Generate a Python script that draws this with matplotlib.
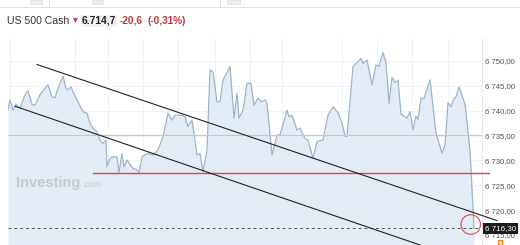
import matplotlib
matplotlib.use("Agg")
import matplotlib.pyplot as plt
import matplotlib.transforms as mtransforms
from matplotlib.patches import Ellipse, Rectangle
from matplotlib.lines import Line2D

plt.rcParams['font.family'] = ['Liberation Sans', 'DejaVu Sans']

# ---- data ----
times = [0, 2, 5, 8, 12, 17, 20, 24, 27, 32, 37, 40, 44, 47, 50, 55, 58, 60, 63, 65,
         70, 75, 79, 82, 85, 89, 92, 95, 98, 99, 102, 105, 109, 111, 114, 116, 119, 123, 125, 129,
         131, 134, 139, 145, 150, 155, 160, 164, 167, 174, 177, 180, 184, 187, 189, 192, 195, 199, 202, 205,
         209, 212, 215, 222, 226, 229, 231, 235, 239, 243, 246, 250, 254, 257, 259, 264, 269, 272, 279, 281,
         284, 289, 292, 297, 300, 305, 309, 315, 320, 325, 330, 334, 337, 339, 345, 350, 353, 355, 359, 364,
         368, 371, 375, 378, 381, 384, 387, 390, 393, 399, 402, 405, 408, 410, 413, 416, 422, 428, 434, 437,
         440, 443, 446, 448, 451, 457, 462, 466]
prices = [6740.1, 6742.2, 6740.1, 6741.3, 6740.5, 6743.2, 6744.0, 6741.3, 6741.1, 6743.2,
          6744.5, 6745.2, 6742.8, 6742.6, 6744.5, 6747.0, 6744.5, 6744.2, 6744.8, 6743.8,
          6741.8, 6739.8, 6739.5, 6737.5, 6736.5, 6735.8, 6734.1, 6733.4, 6734.1, 6728.7,
          6730.4, 6730.7, 6730.7, 6727.5, 6731.4, 6728.7, 6730.1, 6728.9, 6728.4, 6728.1,
          6727.5, 6730.7, 6731.4, 6731.1, 6732.1, 6734.8, 6739.5, 6738.1, 6739.1, 6739.1,
          6738.8, 6736.8, 6738.1, 6734.1, 6731.1, 6731.4, 6727.7, 6732.1, 6748.2, 6747.8,
          6741.8, 6741.8, 6746.2, 6748.9, 6738.5, 6743.5, 6738.5, 6740.1, 6745.5, 6745.5,
          6741.1, 6742.5, 6741.8, 6742.2, 6741.5, 6731.1, 6735.1, 6735.1, 6740.1, 6738.8,
          6739.1, 6736.1, 6736.5, 6734.4, 6734.1, 6730.4, 6733.8, 6734.1, 6739.1, 6740.8,
          6739.6, 6737.5, 6734.9, 6734.8, 6748.9, 6749.9, 6750.5, 6749.5, 6750.2, 6745.2,
          6749.2, 6748.9, 6751.7, 6749.7, 6741.5, 6746.7, 6745.7, 6746.1, 6739.3, 6738.5,
          6739.8, 6736.1, 6738.9, 6738.2, 6742.5, 6742.5, 6746.2, 6735.5, 6731.5, 6733.1,
          6741.6, 6740.8, 6742.5, 6742.8, 6744.8, 6741.3, 6732.1, 6716.3]

ytick_values = [6715, 6720, 6725, 6730, 6735, 6740, 6745, 6750]
ytick_labels = ["6 715,00", "6 720,00", "6 725,00", "6 730,00",
                "6 735,00", "6 740,00", "6 745,00", "6 750,00"]
vgrid_times = [2, 67, 100, 135, 170, 207, 242, 274, 334, 369, 404, 440]

upper_channel_t = [29, 489]
upper_channel_v = [6749.3, 6717.9]
lower_channel_t = [7, 432]
lower_channel_v = [6740.9, 6711.6]
support_level = 6727.4
support_t = [85, 481]
resistance_level = 6735.1
last_price = 6716.3
last_label = "6 716,30"
circle_center = (462.7, 6717.1)

title_name = "US 500 Cash"
title_price = "6.714,7"
title_change = "-20,6"
title_pct = "(-0,31%)"

# ---- figure ----
W, H = 520, 245
fig = plt.figure(figsize=(W / 100, H / 100), dpi=100)
fig.patch.set_facecolor('white')

ax_left, ax_right, ax_top = 8, 482, 38
ax = fig.add_axes([ax_left / W, 0, (ax_right - ax_left) / W, (H - ax_top) / H])
ymin, ymax = 6712.98, 6754.63
ax.set_xlim(0, ax_right - ax_left)
ax.set_ylim(ymin, ymax)

# grid
for v in ytick_values:
    ax.axhline(v, color='#eff1f3', lw=0.6, zorder=0)
for t in vgrid_times:
    ax.axvline(t, color='#edf0f3', lw=0.6, zorder=0)

# series
ax.fill_between(times, prices, ymin - 5, color='#e3ecf5', lw=0, zorder=1)
ax.plot(times, prices, color='#9ab5cc', lw=0.9, zorder=3)

# watermark
ax.text(0.016, 0.30, "Investing", transform=ax.transAxes, fontsize=10.5,
        fontweight='bold', color='#c3c9cf', va='center', ha='left', zorder=2)
ax.text(0.157, 0.293, ".com", transform=ax.transAxes, fontsize=6.3,
        color='#c3c9cf', va='center', ha='left', zorder=2)

# horizontal levels
ax.plot([0, ax_right - ax_left], [resistance_level] * 2, color='#f3b4b6', lw=0.8, zorder=4)
ax.plot(support_t, [support_level] * 2, color='#e0444b', lw=1.0, zorder=4, clip_on=False)
ax.plot([0, 472], [last_price] * 2, color='#555555', lw=0.7, ls=(0, (3, 3)), zorder=4)

# channel lines
ax.plot(upper_channel_t, upper_channel_v, color='#222222', lw=0.8, zorder=5, clip_on=False)
ax.plot(lower_channel_t, lower_channel_v, color='#222222', lw=0.8, zorder=5)

# red circle
px_per_unit = (H - ax_top) / (ymax - ymin)
ax.add_patch(Ellipse(circle_center, 19.5, 19.5 / px_per_unit, fill=False,
                     ec='#e0444b', lw=0.8, zorder=6, clip_on=False))

# axes styling
for s in ['top', 'left', 'bottom']:
    ax.spines[s].set_visible(False)
ax.spines['right'].set_color('#e6e8ea')
ax.spines['right'].set_linewidth(0.7)
ax.set_xticks([])
ax.yaxis.tick_right()
ax.set_yticks(ytick_values)
ax.set_yticklabels(ytick_labels)
ax.tick_params(axis='y', length=0, pad=2.5, labelsize=5.6, labelcolor='#555555')

# last price label
trans = mtransforms.blended_transform_factory(ax.transAxes, ax.transData)
ax.text(1.006, last_price, last_label, transform=trans, fontsize=5.8, color='white',
        va='center', ha='left', zorder=10,
        bbox=dict(boxstyle='square,pad=0.22', fc='#1c1c1c', ec='none'))

# orange icon at bottom right
fig.add_artist(Rectangle((497.5 / W, 0), 4.5 / W, 5 / H, transform=fig.transFigure,
                         fc='#fbe3cc', ec='#f08a24', lw=1.0))

# top toolbar strip
fig.add_artist(Line2D([0, 1], [1 - 7 / H] * 2, transform=fig.transFigure, color='#e3e3e3', lw=0.7))
for x0, x1 in [(30, 42), (92, 103), (227, 240)]:
    fig.add_artist(Rectangle((x0 / W, 1 - 4 / H), (x1 - x0) / W, 4 / H,
                             transform=fig.transFigure, fc='#eeeeee', ec='#dddddd', lw=0.5))
for xd in [49, 220]:
    fig.add_artist(Line2D([xd / W] * 2, [1 - 7 / H, 1], transform=fig.transFigure,
                          color='#dddddd', lw=0.6))

# header
yh = 1 - 20.7 / H
fig.text(7 / W, yh, title_name, fontsize=7.6, color='#333333', va='center', ha='left')
fig.text(73 / W, yh, "▼", fontsize=4.5, color='#d0303a', va='center', ha='left',
         family=['DejaVu Sans'])
fig.text(82 / W, yh, title_price, fontsize=7.4, fontweight='bold', color='#222222',
         va='center', ha='left', bbox=dict(boxstyle='square,pad=0.1', fc='#f1f1f1', ec='none'))
fig.text(120 / W, yh, title_change, fontsize=7.2, fontweight='bold', color='#c8313a',
         va='center', ha='left')
fig.text(148 / W, yh, title_pct, fontsize=7.2, fontweight='bold', color='#c8313a',
         va='center', ha='left')

fig.savefig('out.png', dpi=100, facecolor='white')
